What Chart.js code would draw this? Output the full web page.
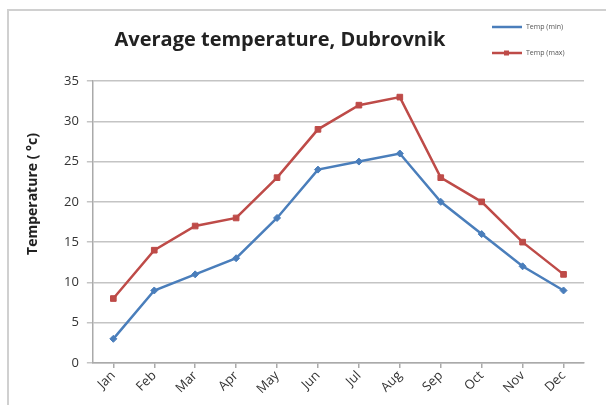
<!DOCTYPE html>
<html>
<head>
<meta charset="utf-8">
<script src="https://cdn.jsdelivr.net/npm/chart.js@4"></script>
<style>
  html, body { margin: 0; padding: 0; background: #fff; }
  #wrap { position: relative; width: 606px; height: 405px; overflow: hidden; }
  #frame { position: absolute; left: 7px; top: 9px; width: 640px; height: 440px; border: 2px solid #d0d0d0; box-sizing: border-box; }
  canvas { position: absolute; left: 0; top: 0; }
</style>
</head>
<body>
<div id="wrap">
  <div id="frame"></div>
  <canvas id="tempChart" width="606" height="405"></canvas>
</div>
<script>
// ===== data =====
const months = ['Jan', 'Feb', 'Mar', 'Apr', 'May', 'Jun', 'Jul', 'Aug', 'Sep', 'Oct', 'Nov', 'Dec'];
const tempMin = [3, 9, 11, 13, 18, 24, 25, 26, 20, 16, 12, 9];
const tempMax = [8, 14, 17, 18, 23, 29, 32, 33, 23, 20, 15, 11];
const seriesNames = ['Temp (min)', 'Temp (max)'];
const chartTitle = 'Average temperature, Dubrovnik';
const yTitle = 'Temperature ( \u00b0c)';

const blue = '#4a7ebb';
const red = '#be4b48';
const fontFamily = '"Open Sans", Lato, sans-serif';

// title, y-axis title and small legend drawn by hand (Excel-style placement)
const headerPlugin = {
    id: 'header',
    afterDraw(chart) {
        const c = chart.ctx;
        c.save();
        c.fillStyle = '#222';
        c.font = 'bold 20px ' + fontFamily;
        c.textAlign = 'center';
        c.textBaseline = 'middle';
        c.fillText(chartTitle, 280, 40);

        // y title
        c.save();
        c.translate(33, 194);
        c.rotate(-Math.PI / 2);
        c.font = 'bold 14px ' + fontFamily;
        c.fillText(yTitle, 0, 0);
        c.restore();

        const rows = [
            { name: seriesNames[0], color: blue, y: 27, marker: 'diamond' },
            { name: seriesNames[1], color: red, y: 53, marker: 'square' }
        ];
        rows.forEach(r => {
            c.strokeStyle = r.color;
            c.lineWidth = 2.5;
            c.beginPath();
            c.moveTo(492, r.y);
            c.lineTo(522, r.y);
            c.stroke();
            c.fillStyle = r.color;
            if (r.marker === 'square') c.fillRect(504, r.y - 2.5, 5, 5);
            c.fillStyle = '#555';
            c.font = '7px ' + fontFamily;
            c.textAlign = 'left';
            c.fillText(r.name, 526, r.y);
        });
        c.restore();
    }
};

new Chart(document.getElementById('tempChart').getContext('2d'), {
    type: 'line',
    data: {
        labels: months,
        datasets: [{
            label: seriesNames[0],
            data: tempMin,
            borderColor: blue,
            backgroundColor: blue,
            borderWidth: 2.5,
            pointStyle: 'rectRot',
            pointRadius: 3.5,
            pointBorderWidth: 1,
            tension: 0
        }, {
            label: seriesNames[1],
            data: tempMax,
            borderColor: red,
            backgroundColor: red,
            borderWidth: 2.5,
            pointStyle: 'rect',
            pointRadius: 4,
            pointBorderWidth: 1,
            tension: 0
        }]
    },
    options: {
        responsive: false,
        animation: false,
        layout: { padding: { left: 56, right: 22, top: 81, bottom: 8 } },
        plugins: {
            legend: { display: false },
            title: { display: false },
            tooltip: { enabled: false }
        },
        scales: {
            x: {
                offset: true,
                grid: { display: true, drawOnChartArea: false, color: '#aaa', lineWidth: 1.5, tickLength: 5 },
                border: { color: '#aaa', width: 1.5 },
                ticks: {
                    color: '#333',
                    font: { family: fontFamily, size: 13 },
                    minRotation: 45,
                    maxRotation: 45,
                    padding: 0
                }
            },
            y: {
                min: 0,
                max: 35,
                ticks: { stepSize: 5, color: '#333', font: { family: fontFamily, size: 13 }, padding: 8 },
                grid: { color: '#c4c4c4', lineWidth: 1.5, tickLength: 6 },
                border: { color: '#aaa', width: 1.5 },
                title: { display: false }
            }
        }
    },
    plugins: [headerPlugin]
});
</script>
</body>
</html>
